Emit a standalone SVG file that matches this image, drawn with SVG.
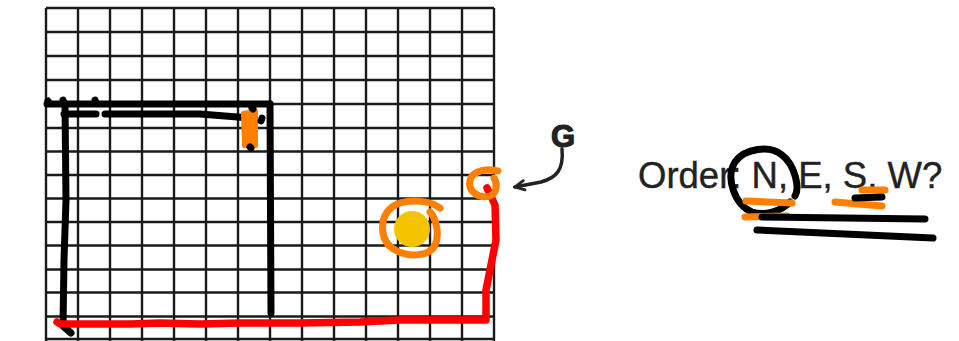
<svg xmlns="http://www.w3.org/2000/svg" width="959" height="341" viewBox="0 0 959 341">
<defs>
<style>
.grid line{stroke:#1a1a1a;stroke-width:2.4}
.ink{fill:none;stroke-linecap:round;stroke-linejoin:round}
.blk{stroke:#000;stroke-width:7}
.red{stroke:#ff0000;stroke-width:7.5}
.org{stroke:#ff8000;stroke-width:7}
.txt{font-family:"Liberation Sans",Arial,sans-serif;fill:#222}
</style>
<marker id="ah" viewBox="0 0 14 14" refX="12" refY="7" markerWidth="13" markerHeight="13" orient="auto" markerUnits="userSpaceOnUse">
<path d="M2,2 L12,7 L2,12" fill="none" stroke="#222" stroke-width="3" stroke-linecap="round" stroke-linejoin="miter"/>
</marker>
</defs>
<rect width="959" height="341" fill="#fff"/>
<g id="grid" class="grid">
<line x1="46" y1="8" x2="46" y2="341"/><line x1="78" y1="8" x2="78" y2="341"/><line x1="110" y1="8" x2="110" y2="341"/><line x1="142" y1="8" x2="142" y2="341"/><line x1="174" y1="8" x2="174" y2="341"/><line x1="206" y1="8" x2="206" y2="341"/><line x1="238" y1="8" x2="238" y2="341"/><line x1="270" y1="8" x2="270" y2="341"/><line x1="302" y1="8" x2="302" y2="341"/><line x1="334" y1="8" x2="334" y2="341"/><line x1="366" y1="8" x2="366" y2="341"/><line x1="398" y1="8" x2="398" y2="341"/><line x1="430" y1="8" x2="430" y2="341"/><line x1="462" y1="8" x2="462" y2="341"/><line x1="494" y1="8" x2="494" y2="341"/>
<line x1="46" y1="8" x2="494" y2="8"/><line x1="46" y1="32" x2="494" y2="32"/><line x1="46" y1="56" x2="494" y2="56"/><line x1="46" y1="80" x2="494" y2="80"/><line x1="46" y1="104" x2="494" y2="104"/><line x1="46" y1="128" x2="494" y2="128"/><line x1="46" y1="151.5" x2="494" y2="151.5"/><line x1="46" y1="175" x2="494" y2="175"/><line x1="46" y1="198.5" x2="494" y2="198.5"/><line x1="46" y1="222" x2="494" y2="222"/><line x1="46" y1="245.5" x2="494" y2="245.5"/><line x1="46" y1="269.5" x2="494" y2="269.5"/><line x1="46" y1="292.5" x2="494" y2="292.5"/><line x1="46" y1="316.5" x2="494" y2="316.5"/><line x1="46" y1="339" x2="494" y2="339"/>
</g>
<g id="black-walls" class="ink blk">
<path d="M47,104 L270,104"/>
<path d="M48,101 L49,103 M63,100 L64,103 M95,100 L96,103"/>
<path d="M64,114 L96,114"/>
<path d="M105,114 L200,114 L250,118"/>
<path d="M65,104 L66,200 L64,260 L63,326 L71,333"/>
<path d="M270,104 L271,313"/>
</g>
<g id="orange-marker" class="ink">
<path d="M243,113 L256,111 L256,146 L244,146 Z" fill="#ff8000" stroke="#ff8000" stroke-width="4"/>
<path d="M252,108 L253,109 M250,147 L251,148 M262,118 L261,121" class="blk" stroke-width="4"/>
</g>
<g id="red-path" class="ink red">
<path d="M57,322 L60,324 L130,324 L160,323 L200,324 L240,323 L260,323 L300,323 L360,322 L400,320 L450,320 L486,320 L486,290 L490,270 L496,240 L495,205 L487,188"/>
</g>
<g id="goal" class="ink">
<path d="M498,171 C489,168 473,170 470,180 C467,192 480,199 490,196 C497,193 498,184 494,178" class="org"/>
<circle cx="412" cy="229" r="18" fill="#f5c400"/>
<path d="M440,208 C430,200 405,198 392,207 C378,218 380,242 395,250 C410,258 430,256 435,245 C440,235 436,218 430,212" class="org"/>
</g>
<g id="label-G">
<text x="551" y="147" class="txt" font-size="31" font-weight="bold" stroke="#222" stroke-width="1.2">G</text>
</g>
<g id="connectors">
<path d="M562,149 C564,170 556,178 541,182 L515,187" fill="none" stroke="#222" stroke-width="3.5" stroke-linecap="round" marker-end="url(#ah)"/>
</g>
<g id="question">
<text x="638" y="188" class="txt" font-size="36.5" stroke="#222" stroke-width="0.4">Order: N, E, S, W?</text>
<path d="M795,196 C800,188 795,165 782,155 C770,145 745,148 735,162 C725,178 735,205 752,212 C765,216 780,212 790,202" class="ink blk" stroke-width="5.5"/>
<path d="M746,201 L792,203 M745,217 L787,216 M862,190 L885,190 M835,202 L882,206" class="ink org" stroke-width="5.5"/>
<path d="M855,198 L882,197 M762,217 L925,219 M757,230 L933,238" class="ink blk" stroke-width="6"/>
</g>
</svg>
